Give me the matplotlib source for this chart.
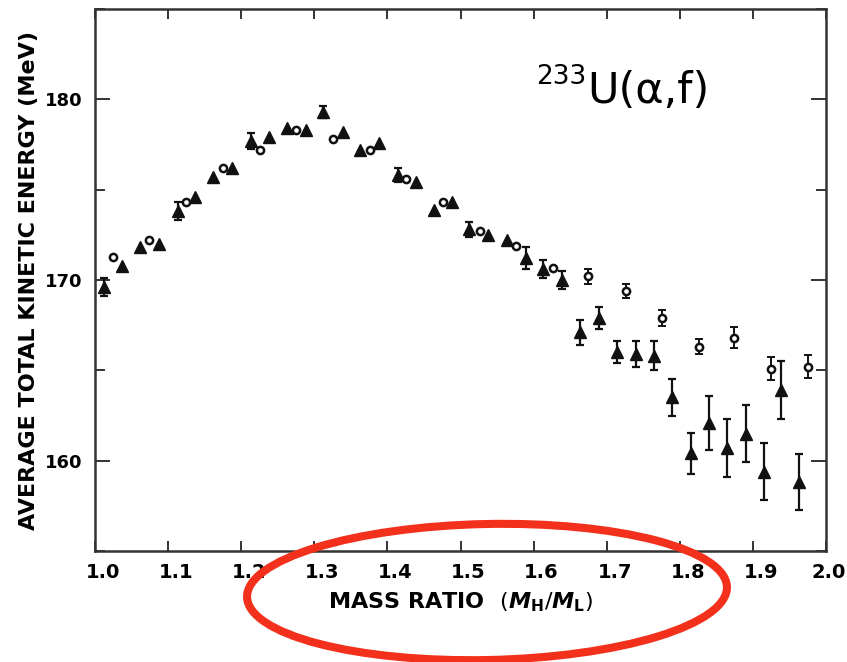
import matplotlib
matplotlib.use("Agg")
import matplotlib.pyplot as plt
import numpy as np
from matplotlib.patches import Ellipse
from matplotlib.ticker import MultipleLocator
from matplotlib.transforms import ScaledTranslation

# filled triangles
tri_x = [1.012, 1.037, 1.061, 1.088, 1.113, 1.137, 1.162, 1.187, 1.213, 1.238,
         1.263, 1.289, 1.312, 1.339, 1.363, 1.388, 1.415, 1.439, 1.464, 1.489,
         1.512, 1.538, 1.563, 1.589, 1.613, 1.639, 1.664, 1.689, 1.714, 1.740,
         1.765, 1.789, 1.815, 1.840, 1.864, 1.890, 1.915, 1.938, 1.963]
tri_y = [169.6, 170.8, 171.8, 172.0, 173.8, 174.6, 175.7, 176.2, 177.7, 177.9,
         178.4, 178.3, 179.3, 178.2, 177.2, 177.6, 175.8, 175.4, 173.9, 174.3,
         172.8, 172.5, 172.2, 171.2, 170.6, 170.0, 167.1, 167.9, 166.0, 165.9,
         165.8, 163.5, 160.4, 162.1, 160.7, 161.5, 159.4, 163.9, 158.8]
tri_err = [0.5, 0, 0, 0, 0.5, 0, 0, 0, 0.45, 0,
           0, 0, 0.35, 0, 0, 0, 0.4, 0, 0, 0,
           0.4, 0, 0, 0.6, 0.5, 0.5, 0.7, 0.6, 0.6, 0.7,
           0.8, 1.0, 1.15, 1.5, 1.6, 1.6, 1.6, 1.6, 1.55]

# open circles
circ_x = [1.025, 1.074, 1.125, 1.175, 1.226, 1.275, 1.326, 1.376, 1.426, 1.476,
          1.526, 1.576, 1.626, 1.675, 1.726, 1.776, 1.826, 1.874, 1.925, 1.976]
circ_y = [171.3, 172.2, 174.3, 176.2, 177.2, 178.3, 177.8, 177.2, 175.6, 174.3,
          172.7, 171.9, 170.65, 170.2, 169.4, 167.9, 166.3, 166.8, 165.1, 165.2]
circ_err = [0, 0, 0, 0, 0, 0, 0, 0, 0, 0,
            0, 0, 0, 0.43, 0.4, 0.46, 0.41, 0.58, 0.62, 0.63]

x_ticks = [1.0, 1.1, 1.2, 1.3, 1.4, 1.5, 1.6, 1.7, 1.8, 1.9, 2.0]
y_ticks = [160, 170, 180]

INK = "#111111"
plt.rcParams["mathtext.fontset"] = "dejavusans"

fig = plt.figure(figsize=(8.47, 6.62), dpi=100)
ax = fig.add_axes([95 / 847, 1 - 551 / 662, 731 / 847, 542 / 662])

tx, ty, te = map(np.asarray, (tri_x, tri_y, tri_err))
cx, cy, ce = map(np.asarray, (circ_x, circ_y, circ_err))

m = te > 0
ax.errorbar(tx[m], ty[m], yerr=te[m], fmt="none", ecolor=INK,
            elinewidth=1.6, capsize=3.2, capthick=1.6, zorder=2)
m = ce > 0
ax.errorbar(cx[m], cy[m], yerr=ce[m], fmt="none", ecolor=INK,
            elinewidth=1.4, capsize=3.0, capthick=1.4, zorder=2)
ax.plot(tx, ty, "^", color=INK, ms=8.5, zorder=3)
ax.plot(cx, cy, "o", mfc="white", mec=INK, mew=1.8, ms=5.2, zorder=3)

ax.set_xlim(1.0, 2.0)
ax.set_ylim(155, 185)
ax.set_xticks(x_ticks)
ax.set_xticklabels([f"{v:.1f}" for v in x_ticks])
ax.set_yticks(y_ticks)
ax.yaxis.set_minor_locator(MultipleLocator(5))

ax.tick_params(axis="both", which="both", direction="in", top=True, right=True,
               width=1.4, color="#333333")
ax.tick_params(axis="x", which="major", length=7, pad=9, labelsize=14)
ax.tick_params(axis="y", which="major", length=11, pad=9, labelsize=13)
ax.tick_params(axis="y", which="minor", length=7)
for lbl in ax.get_xticklabels() + ax.get_yticklabels():
    lbl.set_fontweight("bold")
xlabels = ax.get_xticklabels()
for i, lbl in enumerate(xlabels):
    dx = 3 if i == len(xlabels) - 1 else 8
    lbl.set_transform(lbl.get_transform() + ScaledTranslation(dx / 100, 0, fig.dpi_scale_trans))

for s in ax.spines.values():
    s.set_linewidth(1.8)
    s.set_color("#333333")

ax.set_ylabel("AVERAGE TOTAL KINETIC ENERGY (MeV)", fontsize=16, fontweight="bold")
ax.yaxis.set_label_coords(-0.077, 0.5)
ax.set_xlabel(r"MASS RATIO  $\left(\mathbfit{M}_{\mathbf{H}}/\mathbfit{M}_{\mathbf{L}}\right)$",
              fontsize=16, fontweight="bold", labelpad=6)

fig.text(587 / 847, 1 - 103 / 662, "U(α,f)", fontsize=31, va="baseline", ha="left")
fig.text(586 / 847, 1 - 64 / 662, "233", fontsize=19, va="top", ha="right")

ell = Ellipse((4.87, 0.70), 4.80, 1.36, angle=1.2, fill=False,
              edgecolor="#f2301c", linewidth=5.8, transform=fig.dpi_scale_trans)
fig.add_artist(ell)

fig.savefig("out.png", dpi=100)
